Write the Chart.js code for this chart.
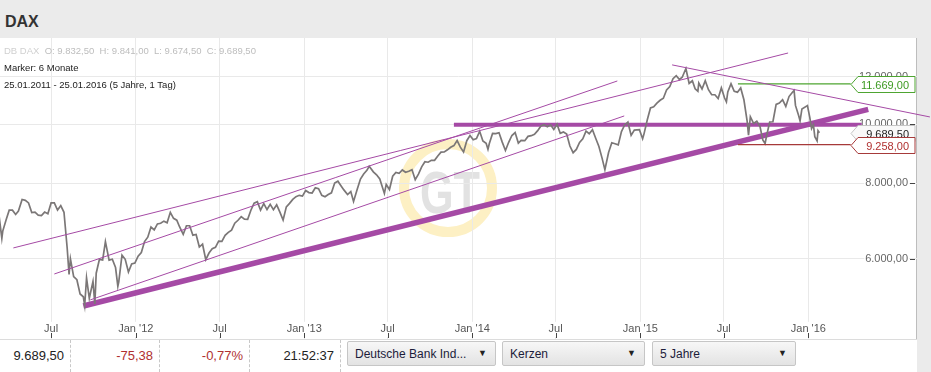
<!DOCTYPE html>
<html lang="de">
<head>
  <meta charset="UTF-8">
  <title>DAX</title>
  <script src="https://cdn.jsdelivr.net/npm/chart.js"></script>
  <style>
    body {
      margin: 0;
      width: 931px;
      height: 372px;
      overflow: hidden;
      position: relative;
      background: #ebebeb;
      font-family: Arial, "Liberation Sans", sans-serif;
    }

    #titel {
      position: absolute;
      left: 5px;
      top: 13px;
      font-size: 16px;
      font-weight: bold;
      color: #333;
    }

    #flaeche {
      position: absolute;
      left: 0;
      top: 38px;
      width: 916px;
      height: 301px;
      background: #fff;
      border-right: 1px solid #bdbdbd;
    }

    #logo {
      position: absolute;
      left: 399px;
      top: 139px;
      width: 98px;
      height: 98px;
      box-sizing: border-box;
      border: 10px solid #fdf0c4;
      border-radius: 50%;
    }

    #logo span {
      position: absolute;
      left: 0;
      right: 0;
      top: 14px;
      text-align: center;
      font-size: 60px;
      font-weight: bold;
      color: #e2e2e2;
      transform: scaleX(0.72);
      line-height: 60px;
    }

    canvas {
      position: absolute;
      left: 0;
      top: 38px;
    }

    .info {
      position: absolute;
      left: 4px;
      font-size: 9.5px;
      color: #222;
      white-space: pre;
    }

    #fuss {
      position: absolute;
      left: 0;
      top: 339px;
      width: 917px;
      height: 33px;
      background: #fff;
      border-top: 1px solid #dcdcdc;
    }

    .wert {
      position: absolute;
      top: 348px;
      font-size: 13px;
      text-align: right;
      color: #222;
    }

    .rot { color: #b03030; }

    .trenn {
      position: absolute;
      top: 340px;
      height: 32px;
      border-left: 1px dashed #c8c8c8;
    }

    .auswahl {
      position: absolute;
      top: 341px;
      height: 25px;
      box-sizing: border-box;
      border: 1px solid #c6c6c6;
      border-radius: 2px;
      background: linear-gradient(#f7f7f7, #e3e3e3);
      font-size: 12px;
      color: #1c1c3a;
      padding: 5px 0 0 7px;
    }

    .auswahl b {
      position: absolute;
      right: 8px;
      top: 6px;
      font-size: 9px;
      font-weight: normal;
      color: #222;
    }
  </style>
</head>
<body>
  <div id="titel">DAX</div>
  <div id="flaeche"></div>
  <div id="logo"><span>GT</span></div>
  <canvas id="grafik" width="931" height="301"></canvas>

  <div class="info" style="top:45px; color:#bdbdbd;"><span style="color:#d0d0d0;">DB DAX</span>  O: 9.832,50  H: 9.841,00  L: 9.674,50  C: 9.689,50</div>
  <div class="info" style="top:62px;">Marker: 6 Monate</div>
  <div class="info" style="top:79px;">25.01.2011 - 25.01.2016 (5 Jahre, 1 Tag)</div>

  <div id="fuss"></div>
  <div class="wert" style="left:0; width:64px;">9.689,50</div>
  <div class="wert rot" style="left:90px; width:63px;">-75,38</div>
  <div class="wert rot" style="left:180px; width:63px;">-0,77%</div>
  <div class="wert" style="left:270px; width:64px;">21:52:37</div>
  <div class="trenn" style="left:70px;"></div>
  <div class="trenn" style="left:159px;"></div>
  <div class="trenn" style="left:249px;"></div>
  <div class="trenn" style="left:340px;"></div>
  <div class="auswahl" style="left:347px; width:149px;">Deutsche Bank Ind...<b>&#9660;</b></div>
  <div class="auswahl" style="left:502px; width:143px;">Kerzen<b>&#9660;</b></div>
  <div class="auswahl" style="left:652px; width:144px;">5 Jahre<b>&#9660;</b></div>

  <script>
    // Kursverlauf (Schlusskurse, wöchentlich, einzelne Extremwerte)
    const kursDaten = [
      '2011-03-10','2011-03-16','2011-03-18','2011-03-25','2011-04-01','2011-04-08','2011-04-15','2011-04-21','2011-04-29',
      '2011-05-06','2011-05-13','2011-05-20','2011-05-27','2011-06-03','2011-06-10','2011-06-17','2011-06-24','2011-07-01',
      '2011-07-08','2011-07-15','2011-07-22','2011-07-29','2011-08-05','2011-08-09','2011-08-12','2011-08-19','2011-08-26',
      '2011-09-02','2011-09-09','2011-09-12','2011-09-16','2011-09-22','2011-09-30','2011-10-04','2011-10-07','2011-10-14',
      '2011-10-21','2011-10-27','2011-11-04','2011-11-11','2011-11-18','2011-11-23','2011-11-25','2011-12-02','2011-12-09',
      '2011-12-16','2011-12-23','2011-12-30',
      '2012-01-06','2012-01-13','2012-01-20','2012-01-27','2012-02-03','2012-02-10','2012-02-17','2012-02-24','2012-03-02',
      '2012-03-09','2012-03-16','2012-03-23','2012-03-30','2012-04-05','2012-04-13','2012-04-20','2012-04-27','2012-05-04',
      '2012-05-11','2012-05-18','2012-05-25','2012-06-01','2012-06-08','2012-06-15','2012-06-22','2012-06-29','2012-07-06',
      '2012-07-13','2012-07-20','2012-07-27','2012-08-03','2012-08-10','2012-08-17','2012-08-24','2012-08-31','2012-09-07',
      '2012-09-14','2012-09-21','2012-09-28','2012-10-05','2012-10-12','2012-10-19','2012-10-26','2012-11-02','2012-11-09',
      '2012-11-16','2012-11-23','2012-11-30','2012-12-07','2012-12-14','2012-12-21','2012-12-28',
      '2013-01-04','2013-01-11','2013-01-18','2013-01-25','2013-02-01','2013-02-08','2013-02-15','2013-02-22','2013-03-01',
      '2013-03-08','2013-03-15','2013-03-22','2013-03-28','2013-04-05','2013-04-12','2013-04-18','2013-04-26','2013-05-03',
      '2013-05-10','2013-05-17','2013-05-22','2013-05-31','2013-06-07','2013-06-14','2013-06-24','2013-06-28','2013-07-05',
      '2013-07-12','2013-07-19','2013-07-26','2013-08-02','2013-08-09','2013-08-16','2013-08-23','2013-08-30','2013-09-06',
      '2013-09-13','2013-09-20','2013-09-27','2013-10-04','2013-10-11','2013-10-18','2013-10-25','2013-11-01','2013-11-08',
      '2013-11-15','2013-11-22','2013-11-29','2013-12-06','2013-12-13','2013-12-20','2013-12-27',
      '2014-01-03','2014-01-10','2014-01-17','2014-01-24','2014-01-31','2014-02-04','2014-02-07','2014-02-14','2014-02-21',
      '2014-02-28','2014-03-07','2014-03-14','2014-03-21','2014-03-28','2014-04-04','2014-04-11','2014-04-17','2014-04-25',
      '2014-05-02','2014-05-09','2014-05-16','2014-05-23','2014-05-30','2014-06-06','2014-06-13','2014-06-20','2014-06-27',
      '2014-07-04','2014-07-11','2014-07-18','2014-07-25','2014-08-01','2014-08-08','2014-08-15','2014-08-22','2014-08-29',
      '2014-09-05','2014-09-12','2014-09-19','2014-09-26','2014-10-03','2014-10-10','2014-10-16','2014-10-24','2014-10-31',
      '2014-11-07','2014-11-14','2014-11-21','2014-11-28','2014-12-05','2014-12-12','2014-12-19','2014-12-30',
      '2015-01-06','2015-01-09','2015-01-16','2015-01-23','2015-01-30','2015-02-06','2015-02-13','2015-02-20','2015-02-27',
      '2015-03-06','2015-03-13','2015-03-20','2015-03-27','2015-04-02','2015-04-10','2015-04-17','2015-04-24','2015-04-30',
      '2015-05-06','2015-05-08','2015-05-15','2015-05-22','2015-05-29','2015-06-05','2015-06-12','2015-06-19','2015-06-26',
      '2015-07-03','2015-07-07','2015-07-10','2015-07-17','2015-07-24','2015-07-31','2015-08-07','2015-08-14','2015-08-21',
      '2015-08-24','2015-08-28','2015-09-04','2015-09-11','2015-09-18','2015-09-24','2015-09-29','2015-10-02','2015-10-09',
      '2015-10-16','2015-10-23','2015-10-30','2015-11-06','2015-11-13','2015-11-20','2015-11-27','2015-12-01','2015-12-04',
      '2015-12-11','2015-12-14','2015-12-18','2015-12-30',
      '2016-01-04','2016-01-08','2016-01-12','2016-01-15','2016-01-20','2016-01-22','2016-01-25'
    ];
    const kursWerte = [
      7060,6480,6664,6947,7217,7217,7100,7190,7514,
      7492,7417,7150,7160,7080,7069,7164,7120,7419,
      7419,7220,7344,7158,6236,5650,5997,5603,5538,
      5246,5189,5020,5574,5160,5502,5050,5676,5985,
      5971,6400,5966,5986,5800,5400,5492,6080,5986,
      5701,5878,5898,
      6057,6143,6404,6511,6766,6692,6848,6864,6921,
      6880,7157,6995,6947,6775,6583,6801,6801,6561,
      6579,6271,6339,5978,6130,6229,6263,6416,6410,
      6558,6630,6689,6866,6944,7040,6971,6970,7214,
      7412,7451,7216,7398,7233,7380,7231,7364,7163,
      6950,7309,7405,7518,7597,7636,7612,
      7776,7716,7702,7857,7833,7634,7593,7661,7708,
      8000,8058,7913,7795,7658,7745,7460,7814,8122,
      8279,8398,8530,8349,8255,8128,7690,7959,7806,
      8212,8331,8300,8410,8337,8366,8416,8103,8276,
      8510,8676,8661,8725,8725,8870,9001,9009,9079,
      9168,9226,9405,9172,9006,9400,9589,
      9435,9473,9742,9392,9306,9100,9301,9662,9657,
      9692,9350,9056,9343,9588,9695,9315,9409,9401,
      9556,9581,9630,9768,9943,9987,9912,9987,9815,
      10009,9666,9720,9644,9210,8980,9092,9339,9470,
      9747,9651,9800,9490,9195,8788,8420,8988,9326,
      9291,9252,9733,9980,10087,9594,9787,9806,
      9470,9648,10168,10649,10694,10846,10963,11050,11402,
      11551,11901,12040,11868,11967,12375,11689,11811,11454,
      11350,11709,11447,11815,11414,11198,11197,11041,11492,
      11058,10900,11316,11674,11347,11308,11490,10985,10124,
      9600,10298,10038,10123,9916,9430,9300,9553,10096,
      10104,10794,10850,10988,10708,11119,11293,11382,10752,
      10340,10140,10608,10743,
      10283,9849,9985,9545,9391,9764,9689.5
    ];

    // Trendlinien: [Datum, Wert]
    const unterstuetzung = [['2011-09-09', 5010], ['2016-05-10', 10590]];
    const widerstand = [['2013-11-22', 9985], ['2016-04-26', 9985]];
    const kanalOben = [['2011-04-10', 6250], ['2015-11-18', 13126]];
    const kanalMitte = [['2011-07-08', 5660], ['2014-11-12', 11800]];
    const kanalUnten = [['2011-09-24', 5128], ['2014-11-27', 10329]];
    const abwaerts = [['2015-03-11', 12545], ['2016-09-21', 10290]];
    const hochLinie = [['2015-08-01', 11669], ['2016-04-02', 11669]];
    const tiefLinie = [['2015-08-01', 9258], ['2016-04-02', 9258]];

    // Achsen
    const xTickDaten = ['2011-07-01','2012-01-01','2012-07-01','2013-01-01','2013-07-01',
                        '2014-01-01','2014-07-01','2015-01-01','2015-07-01','2016-01-01'];
    const xTickTexte = ['Jul', "Jan '12", 'Jul', "Jan '13", 'Jul', "Jan '14", 'Jul', "Jan '15", 'Jul', "Jan '16"];
    const yTicks = [6000, 8000, 10000, 12000];
    const xVon = '2011-03-12', xBis = '2016-08-24';
    const yVon = 4419, yBis = 13897;

    // Kursmarken rechts
    const markenWerte = [11669, 9689.5, 9258];
    const markenFarben = [
      { rand: '#4ea531', text: '#3d9a22' },
      { rand: '#c4c4c4', text: '#222' },
      { rand: '#a63a3a', text: '#b03030' }
    ];

    const lila = '#a54aa5';

    function tag(datum) {
      const [j, m, t] = datum.split('-').map(Number);
      return (Date.UTC(j, m - 1, t) - Date.UTC(2011, 0, 1)) / 86400000;
    }

    function zahl(v) {
      const [g, d] = v.toFixed(2).split('.');
      return g.replace(/\B(?=(\d{3})+(?!\d))/g, '.') + ',' + d;
    }

    function punkte(linie) {
      return linie.map(p => ({ x: tag(p[0]), y: p[1] }));
    }

    function linie(daten, farbe, breite, extra) {
      return Object.assign({
        data: punkte(daten),
        borderColor: farbe,
        borderWidth: breite,
        pointRadius: 0,
        fill: false
      }, extra || {});
    }

    const kurs = kursDaten.map((d, i) => ({ x: tag(d), y: kursWerte[i] }));

    const zusatz = {
      id: 'zusatz',
      afterDraw(chart) {
        const { ctx, chartArea: a, scales: { x, y } } = chart;
        ctx.save();
        ctx.strokeStyle = '#444';
        ctx.lineWidth = 1;
        ctx.beginPath();
        x.ticks.forEach(t => {
          const px = Math.round(x.getPixelForValue(t.value)) + 0.5;
          ctx.moveTo(px, a.bottom - 6);
          ctx.lineTo(px, a.bottom - 1);
        });
        y.ticks.forEach(t => {
          const py = Math.round(y.getPixelForValue(t.value)) + 0.5;
          ctx.moveTo(a.right - 7, py);
          ctx.lineTo(a.right - 2, py);
        });
        ctx.stroke();

        ctx.font = '11px Arial, "Liberation Sans", sans-serif';
        ctx.textAlign = 'right';
        ctx.textBaseline = 'middle';
        markenWerte.forEach((v, i) => {
          const py = Math.round(y.getPixelForValue(v)) + 0.5;
          const spitze = a.right - 66, links = a.right - 59, rechts = a.right - 2;
          ctx.beginPath();
          ctx.moveTo(spitze, py);
          ctx.lineTo(links, py - 8);
          ctx.lineTo(rechts, py - 8);
          ctx.lineTo(rechts, py + 8);
          ctx.lineTo(links, py + 8);
          ctx.closePath();
          ctx.fillStyle = i === 1 ? '#f9f9f9' : '#fff';
          ctx.fill();
          ctx.strokeStyle = markenFarben[i].rand;
          ctx.stroke();
          ctx.fillStyle = markenFarben[i].text;
          ctx.fillText(zahl(v), a.right - 8, py + 1);
        });
        ctx.restore();
      }
    };

    const schrift = { family: 'Arial, "Liberation Sans", sans-serif', size: 11 };

    new Chart(document.getElementById('grafik'), {
      type: 'line',
      data: {
        datasets: [
          linie(kanalOben, lila, 1),
          linie(kanalMitte, lila, 1),
          linie(kanalUnten, lila, 1),
          linie(abwaerts, lila, 1, { clip: false }),
          linie(hochLinie, '#4ea531', 1.2),
          linie(tiefLinie, '#a63a3a', 1.2),
          { data: kurs, borderColor: '#7b7777', borderWidth: 1.7, pointRadius: 0, fill: false },
          linie(widerstand, lila, 4),
          linie(unterstuetzung, lila, 5.5)
        ]
      },
      options: {
        responsive: false,
        animation: false,
        layout: { padding: { right: 14 }, autoPadding: false },
        plugins: { legend: { display: false }, tooltip: { enabled: false } },
        elements: { line: { tension: 0 } },
        scales: {
          x: {
            type: 'linear',
            min: tag(xVon),
            max: tag(xBis),
            afterBuildTicks: s => { s.ticks = xTickDaten.map(d => ({ value: tag(d) })); },
            afterFit: s => { s.height = 0; },
            border: { display: false },
            grid: { color: '#e9e9e9', drawTicks: false },
            ticks: {
              autoSkip: false,
              maxRotation: 0,
              mirror: true,
              padding: 3,
              color: '#555',
              font: schrift,
              showLabelBackdrop: true,
              backdropColor: '#fff',
              backdropPadding: 1,
              callback: (v, i) => xTickTexte[i]
            }
          },
          y: {
            type: 'logarithmic',
            position: 'right',
            min: yVon,
            max: yBis,
            bounds: 'data',
            afterBuildTicks: s => { s.ticks = yTicks.map(v => ({ value: v })); },
            afterFit: s => { s.width = 0; },
            border: { display: false },
            grid: { color: '#e9e9e9', drawTicks: false },
            ticks: {
              mirror: true,
              padding: -9,
              color: '#666',
              font: schrift,
              showLabelBackdrop: true,
              backdropColor: '#fff',
              backdropPadding: 1,
              callback: v => zahl(v)
            }
          }
        }
      },
      plugins: [zusatz]
    });
  </script>
</body>
</html>
